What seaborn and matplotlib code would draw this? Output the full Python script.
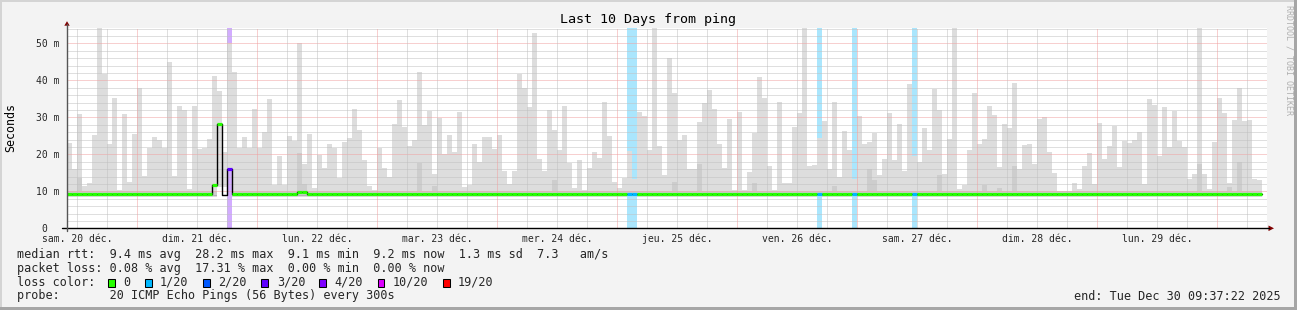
import numpy as np
import pandas as pd
import matplotlib
matplotlib.use("Agg")
import matplotlib.pyplot as plt
import seaborn as sns
from matplotlib.patches import Rectangle, Polygon
from matplotlib.lines import Line2D

# ---------------- data ----------------
# hourly smoke maximum (ms), one bar per hour, 10:00 Sat 20 Dec -> 09:00 Tue 30 Dec
smoke_max = [
    23, 16, 31, 11.5, 12.2, 25.2, 55, 41.8, 22.8, 35.2,
    10.4, 30.9, 12.5, 25.5, 37.9, 14.1, 21.8, 24.7, 24.0, 21.8,
    45, 14.1, 33, 32, 10.6, 33, 21.5, 21.8, 24.1, 41.2,
    37.1, 20.6, 50, 42.3, 21.8, 24.7, 21.8, 32.3, 21.8, 26,
    35, 11.7, 19.5, 11.7, 25, 23.6, 50, 17.4, 25.5, 10.8,
    19.9, 16.3, 22.8, 21.8, 13.6, 23.3, 24.3, 32.3, 26.6, 18.5,
    11.4, 10.4, 21.8, 16.3, 14, 28.2, 34.7, 27.4, 22.3, 24,
    42.3, 27.9, 31.8, 14.7, 29.9, 20, 25.2, 20.7, 31.4, 11.2,
    11.7, 22.8, 18, 24.7, 24.7, 21.4, 25.2, 15.6, 12, 15.6,
    41.8, 37.8, 32.8, 52.8, 18.7, 15.6, 32, 26.6, 21.2, 33,
    17.7, 10.9, 18.5, 10.4, 16.3, 20.6, 19, 34.1, 25, 12.5,
    10.9, 13.6, 20.9, 13.4, 31.4, 30.4, 21.2, 55, 22.3, 14.4,
    46, 36.6, 23.9, 25.2, 15.9, 15.9, 28.7, 33.9, 37.4, 32.3,
    22.8, 16.3, 29.5, 10.4, 31.4, 10.4, 15.2, 25.8, 40.9, 35.2,
    16.8, 10.4, 34.1, 12.3, 12.3, 27.4, 31.2, 55, 16.8, 17.1,
    24.3, 29, 15.9, 34.1, 14, 26.3, 21.2, 13.4, 30.4, 22.8,
    23.3, 25.8, 14.4, 18.7, 31.2, 18.5, 28.2, 15.5, 39, 19.5,
    17.9, 27.1, 21.2, 37.7, 32, 14.7, 24.1, 55, 10.6, 11.7,
    21.2, 36.6, 22.8, 24.1, 33, 30.6, 16.6, 28.2, 27.1, 39.3,
    16, 22.5, 22.8, 17.4, 29.5, 30.1, 20.6, 15, 10.2, 10.2,
    10.2, 12.3, 10.6, 16.8, 20.4, 12, 28.5, 18.7, 22.3, 27.7,
    16.6, 23.6, 23.1, 23.9, 26, 12, 35, 33.3, 19.5, 32.8,
    22, 31.7, 23.6, 22, 13.3, 14.7, 55, 14.7, 10.6, 23.3,
    35.2, 31.2, 12.3, 29.3, 37.9, 29, 29.3, 13.3, 13.1,
]
smoke_floor = 8.5
smoke_floor_special = {30: 11.2, 31: 11.1, 32: 16.0,
                       112: 9.0, 113: 9.0, 150: 9.0, 157: 9.0, 169: 9.0}
inner_top = 10.2
inner_top_special = {2: 13.7, 46: 20.3, 47: 12.0, 70: 17.7, 73: 11.4, 97: 13.0,
                     121: 12.5, 126: 17.4, 137: 12.3, 153: 11.4, 160: 16.0,
                     161: 13.0, 174: 14.4, 183: 11.7, 186: 10.8, 189: 16.8,
                     226: 17.4, 232: 11.2, 234: 17.9}
median_base = 9.3
median_special = {29: 11.8, 30: 28.2, 31: 9.1, 32: 16.0, 46: 9.8, 47: 9.8}
loss_special = {32: 3, 112: 1, 113: 1, 150: 1, 157: 1, 169: 1}
no_color_hours = [31]

loss_names = ["0", "1/20", "2/20", "3/20", "4/20", "10/20", "19/20"]
loss_colors = ["#26ff00", "#00b8ff", "#0059ff", "#5e00ff", "#7e00ff", "#dd00ff", "#ff0000"]
loss_bg = {1: "#aae6fd", 3: "#d2acff"}

day_labels = ["sam. 20 déc.", "dim. 21 déc.", "lun. 22 déc.", "mar. 23 déc.",
              "mer. 24 déc.", "jeu. 25 déc.", "ven. 26 déc.", "sam. 27 déc.",
              "dim. 28 déc.", "lun. 29 déc."]
y_ticks = [0, 10, 20, 30, 40, 50]
y_tick_labels = ["0  ", "10 m", "20 m", "30 m", "40 m", "50 m"]

title = "Last 10 Days from ping"
rtt_stats = ["9.4 ms avg", "28.2 ms max", "9.1 ms min", "9.2 ms now", "1.3 ms sd"]
rtt_am = ["7.3", "am/s"]
loss_stats = ["0.08 % avg", "17.31 % max", "0.00 % min", "0.00 % now"]
probe_desc = "20 ICMP Echo Pings (56 Bytes) every 300s"
end_text = "end: Tue Dec 30 09:37:22 2025"

# ---------------- frame ----------------
W, H = 1297, 310
sns.set_style("white")
plt.rcParams['font.family'] = ['DejaVu Sans Mono', 'DejaVu Sans']

fig = plt.figure(figsize=(W / 100, H / 100), dpi=100, facecolor='#f3f3f3')


def fx(x):
    return x / W


def fy(y):
    return 1 - y / H


X0, X1, YT, YB = 67, 1267, 28.0, 228.3
PXM = 3.7
YMAX = (YB - YT) / PXM
ax = fig.add_axes([fx(X0), fy(YB), (X1 - X0) / W, (YB - YT) / H])
ax.set_facecolor('white')
ax.set_xlim(0, 240)
ax.set_ylim(0, YMAX)
for s in ax.spines.values():
    s.set_visible(False)

n = len(smoke_max)
hours = np.arange(n)
floor = np.array([smoke_floor_special.get(h, smoke_floor) for h in hours])
inner = np.array([inner_top_special.get(h, inner_top) for h in hours])
median = np.array([median_special.get(h, median_base) for h in hours])
loss = np.array([loss_special.get(h, 0) for h in hours])
df = pd.DataFrame({'hour': hours, 'max': smoke_max, 'floor': floor,
                   'inner': inner, 'median': median, 'loss': loss})

# loss background columns
lb = df[df['loss'] > 0]
ax.bar(lb['hour'], YMAX, width=1, align='edge', bottom=0,
       color=[loss_bg[v] for v in lb['loss']], linewidth=0, antialiased=False, zorder=1)

# smoke (outer)
ax.bar(df['hour'], df['max'] - df['floor'], bottom=df['floor'], width=1, align='edge',
       color='#dddddd', linewidth=0, antialiased=False, zorder=2)
# smoke (inner, denser part)
ib = df[(df['inner'] > df['floor'] + 0.4)]
ib_bottom = np.maximum(ib['floor'], 8.8)
ax.bar(ib['hour'], ib['inner'] - ib_bottom, bottom=ib_bottom, width=1, align='edge',
       color='#cdcdcd', linewidth=0, antialiased=False, zorder=2.1)
# darker band right below the median
db = df[df['floor'] < 8.9]
ax.bar(db['hour'], 0.35, bottom=8.6, width=1, align='edge',
       color='#b2b2b2', linewidth=0, antialiased=False, zorder=2.2)

# grid
dot = (0, (1, 1))
for yv in range(2, 55, 2):
    major = yv % 10 == 0
    ax.axhline(yv, color='#f0a0a0' if major else '#c0c0c0', lw=0.72, ls=dot, zorder=3)
for hv in range(2, 240, 6):
    major = (hv - 14) % 24 == 0
    ax.axvline(hv, color='#f0a0a0' if major else '#c0c0c0', lw=0.72, ls=dot, zorder=3)

# median: thin black step line, then thick loss-coloured segments
x_step = np.append(hours, n)
y_step = np.append(median, median[-1])
sns.lineplot(x=x_step, y=y_step, drawstyle='steps-post', color='black', lw=1.0,
             ax=ax, estimator=None, sort=False, zorder=4)
gm = df[~df['hour'].isin(no_color_hours)]
ax.hlines(gm['median'], gm['hour'], gm['hour'] + 1,
          colors=[loss_colors[v] for v in gm['loss']], linewidth=2.3,
          capstyle='butt', zorder=5)

# ticks
ax.set_xticks(np.arange(2, 240, 24))
ax.set_xticklabels(day_labels)
ax.set_xticks(np.arange(14, 240, 24), minor=True)
ax.tick_params(axis='x', which='both', direction='out', length=1.8, width=0.7,
               color='black', pad=2.0, labelsize=7.05)
ax.set_yticks(y_ticks)
ax.set_yticklabels(y_tick_labels)
ax.set_yticks(np.arange(2, 55, 2), minor=True)
ax.tick_params(axis='y', which='both', direction='out', length=1.5, width=0.7,
               color='#555555', pad=3.6, labelsize=7.05)
ax.set_xlabel('')
ax.set_ylabel('')

# axis lines with arrows
fig.add_artist(Line2D([fx(62), fx(1269)], [fy(YB), fy(YB)], color='black', lw=1.0))
fig.add_artist(Line2D([fx(X0), fx(X0)], [fy(YB + 3), fy(24)], color='#555555', lw=1.0))
fig.add_artist(Polygon([[fx(64.3), fy(25.7)], [fx(69.7), fy(25.7)], [fx(67), fy(21.2)]],
                       closed=True, color='#800000', lw=0))
fig.add_artist(Polygon([[fx(1268.5), fy(YB - 2.8)], [fx(1268.5), fy(YB + 2.8)],
                        [fx(1274), fy(YB)]], closed=True, color='#800000', lw=0))

# texts
fig.text(fx(648.5), fy(23.5), title, ha='center', va='baseline', fontsize=9.6, color='black')
fig.text(fx(10.8), fy(127.5), "Seconds", rotation=90, ha='center', va='center',
         fontsize=8.4, color='black')
fig.text(fx(1289), fy(60), "RRDTOOL / TOBI OETIKER", rotation=270, ha='center',
         va='center', fontsize=6.0, color='#b0b0b0')

LFS = 8.5
LX = 16.6
line1 = "median rtt:  " + "  ".join(rtt_stats) + "  " + rtt_am[0] + "   " + rtt_am[1]
line2 = "packet loss: " + "  ".join(loss_stats)
line4 = "probe:       " + probe_desc
fig.text(fx(LX), fy(258.3), line1, ha='left', va='baseline', fontsize=LFS)
fig.text(fx(LX), fy(272), line2, ha='left', va='baseline', fontsize=LFS)
fig.text(fx(LX), fy(285.8), "loss color:", ha='left', va='baseline', fontsize=LFS)
box_x = [108.3, 145, 203.3, 261.3, 319.3, 377.7, 443.3]
lab_x = [123.3, 160, 218.3, 276.7, 334.3, 392.3, 457.7]
for name, col, bx, lx in zip(loss_names, loss_colors, box_x, lab_x):
    fig.add_artist(Rectangle((fx(bx), fy(287)), 6.7 / W, 8.3 / H, facecolor=col,
                             edgecolor='black', lw=0.75))
    fig.text(fx(lx), fy(285.8), name, ha='left', va='baseline', fontsize=LFS)
fig.text(fx(LX), fy(299.5), line4, ha='left', va='baseline', fontsize=LFS)
fig.text(fx(1281), fy(299.5), end_text, ha='right', va='baseline', fontsize=LFS)

# 3D frame of the image
fig.add_artist(Rectangle((0, fy(2)), 1, 2 / H, facecolor='#d4d4d4', lw=0))
fig.add_artist(Rectangle((0, 0), 2 / W, 1, facecolor='#d4d4d4', lw=0))
fig.add_artist(Rectangle((0, 0), 1, 3 / H, facecolor='#a6a6a6', lw=0))
fig.add_artist(Rectangle((fx(1294), 0), 3 / W, 1, facecolor='#a6a6a6', lw=0))

fig.savefig("out.png", dpi=100, facecolor=fig.get_facecolor())
